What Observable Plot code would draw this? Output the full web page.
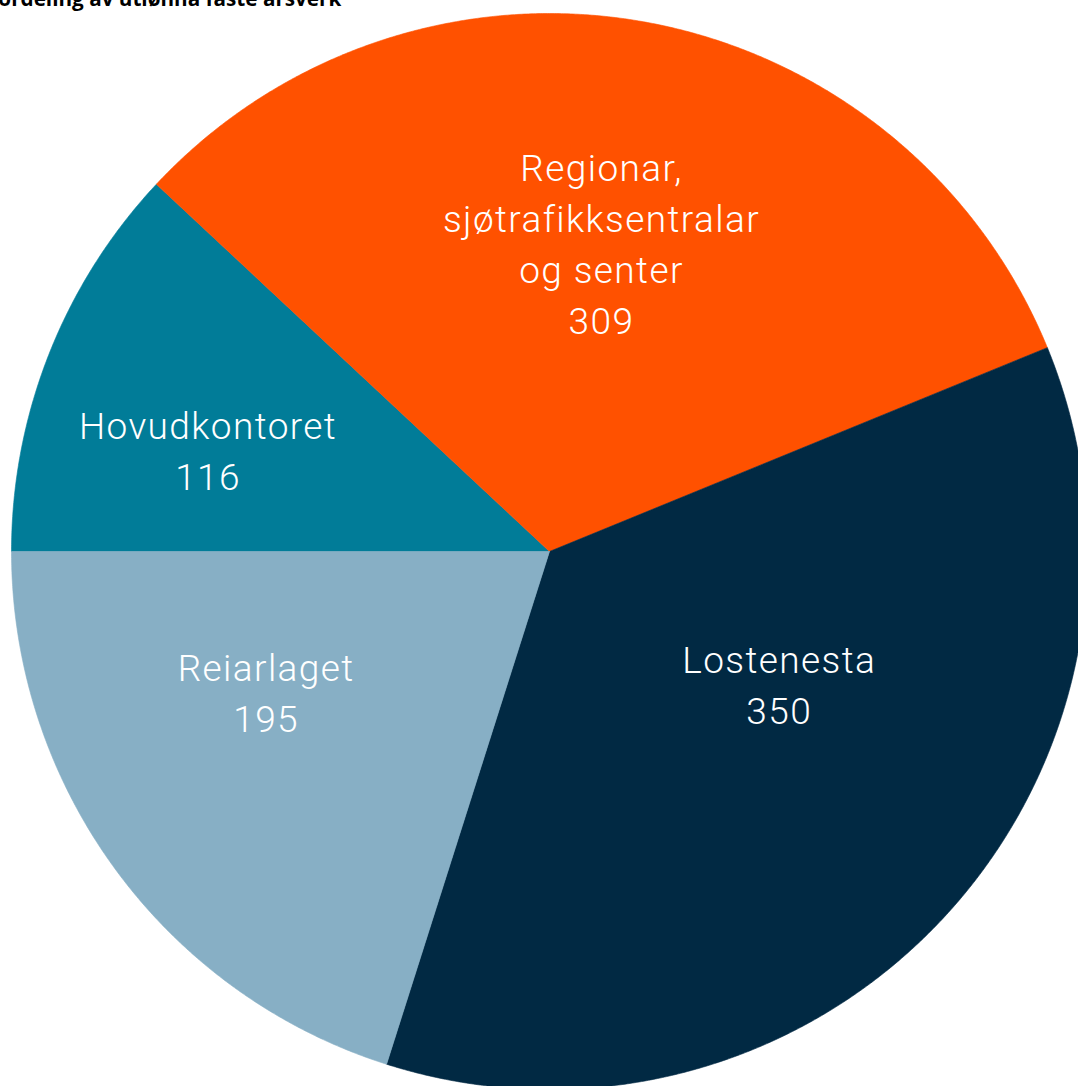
<!DOCTYPE html>
<html><head><meta charset="utf-8">
<script src="https://cdn.jsdelivr.net/npm/d3@7"></script>
<script src="https://cdn.jsdelivr.net/npm/@observablehq/plot@0.6"></script>
<style>
html,body{margin:0;padding:0;background:#fff;overflow:hidden;width:1078px;height:1086px;}
#wrap{position:relative;width:1078px;height:1086px;}
#title{position:absolute;left:-13px;top:-12px;font:700 20.7px "Open Sans",sans-serif;line-height:20px;color:#000;z-index:2;white-space:nowrap;}
#chart{position:absolute;left:0;top:0;}
#chart text{letter-spacing:1.4px;}
</style></head><body>
<div id="wrap"><div id="title">Fordeling av utlønna faste årsverk</div><div id="chart"></div></div>
<script>
// Data
const categories = ["Hovudkontoret", "Regionar,\nsjøtrafikksentralar\nog senter", "Lostenesta", "Reiarlaget"];
const values = [116, 309, 350, 195];
const colors = ["#017C98", "#FF5100", "#012943", "#87AFC5"];

// Label placement (fraction of radius, angular nudge in degrees)
const labelRadius = [0.662, 0.578, 0.494, 0.591];
const labelNudge = [-5.4, -0.9, -12.2, 9.5];

const W = 1078, H = 1086, cx = 549, cy = 551, R = 538;

const pie = d3.pie().sort(null).value(d => d)
  .startAngle(-Math.PI / 2).endAngle(3 * Math.PI / 2);
const arcs = pie(values);

const polys = [];
const labels = [];
arcs.forEach((a, i) => {
  const cat = categories[i];
  const n = Math.max(2, Math.ceil((a.endAngle - a.startAngle) / (Math.PI / 720)));
  polys.push({x: 0, y: 0, cat});
  for (let k = 0; k <= n; k++) {
    const t = a.startAngle + (a.endAngle - a.startAngle) * k / n;
    polys.push({x: Math.sin(t), y: -Math.cos(t), cat});
  }
  polys.push({x: 0, y: 0, cat});
  const mid = (a.startAngle + a.endAngle) / 2 + labelNudge[i] * Math.PI / 180;
  labels.push({
    x: labelRadius[i] * Math.sin(mid),
    y: -labelRadius[i] * Math.cos(mid),
    text: cat + "\n" + values[i]
  });
});

const chart = Plot.plot({
  width: W, height: H,
  margin: 0,
  style: {background: "transparent"},
  x: {axis: null, domain: [-cx / R, (W - cx) / R], range: [0, W]},
  y: {axis: null, domain: [-cy / R, (H - cy) / R], range: [0, H]},
  color: {domain: categories, range: colors},
  marks: [
    Plot.line(polys, {x: "x", y: "y", z: "cat", fill: "cat", stroke: "cat", strokeWidth: 0.6, curve: "linear"}),
    Plot.text(labels, {
      x: "x", y: "y", text: "text", dx: 0.7, dy: -4,
      fill: "white", fontSize: 37, lineHeight: 1.38,
      fontFamily: "Roboto, 'DejaVu Sans', sans-serif", fontWeight: 300,
      textAnchor: "middle"
    })
  ]
});
document.getElementById("chart").appendChild(chart);
</script>
</body></html>
